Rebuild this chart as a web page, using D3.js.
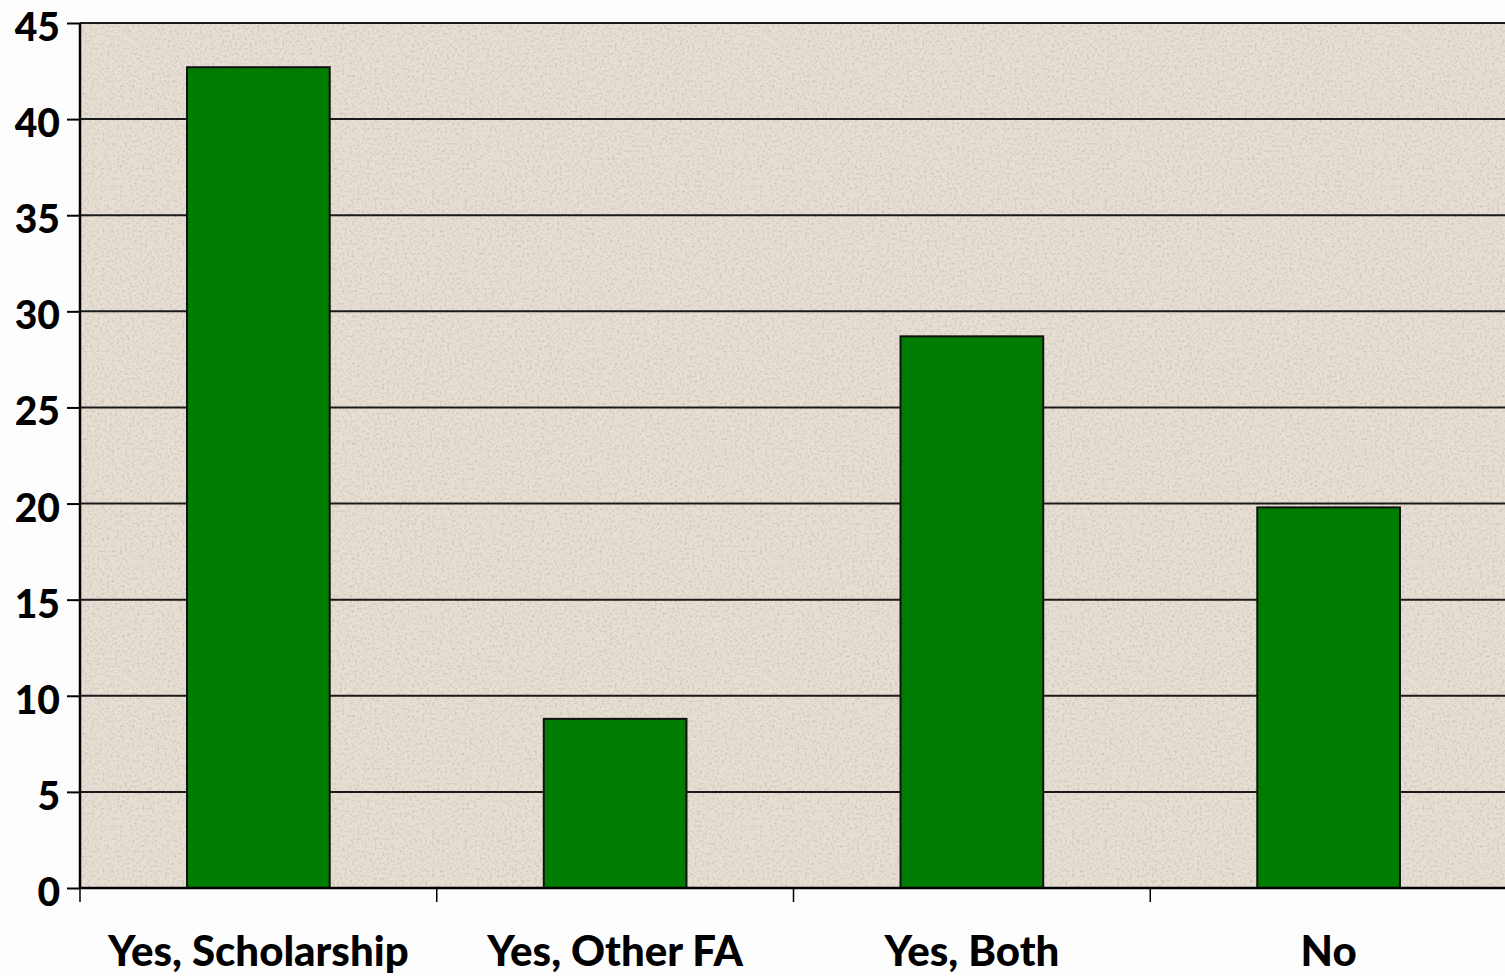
<!DOCTYPE html>
<html>
<head>
<meta charset="utf-8">
<script src="https://cdnjs.cloudflare.com/ajax/libs/d3/7.8.5/d3.min.js"></script>
<style>
  html, body { margin: 0; padding: 0; background: #fdfdfd; overflow: hidden; }
  svg { display: block; }
  .tick text { font-family: Lato, "Open Sans", sans-serif; font-weight: 900; fill: #000; }
</style>
</head>
<body>
<div id="chart"></div>
<script>
// values
categories = ["Yes, Scholarship", "Yes, Other FA", "Yes, Both", "No"];
values = [42.7, 8.8, 28.7, 19.8];
yTicks = [0, 5, 10, 15, 20, 25, 30, 35, 40, 45];

var width = 1505, height = 976;
var margin = {top: 23, right: -2, bottom: 88, left: 80};
var plotW = width - margin.left - margin.right,
    plotH = height - margin.top - margin.bottom;

var svg = d3.select("#chart").append("svg")
    .attr("width", width)
    .attr("height", height);

// speckled paper texture for the plot area
var defs = svg.append("defs");
var filt = defs.append("filter").attr("id", "paper")
    .attr("x", 0).attr("y", 0).attr("width", "100%").attr("height", "100%");
filt.append("feTurbulence")
    .attr("type", "fractalNoise")
    .attr("baseFrequency", 0.4)
    .attr("numOctaves", 2)
    .attr("seed", 7)
    .attr("result", "noise");
filt.append("feColorMatrix")
    .attr("in", "noise")
    .attr("type", "matrix")
    .attr("values", "0 0 0 0 0.60  0 0 0 0 0.55  0 0 0 0 0.49  0 0 0 -2.4 1.3")
    .attr("result", "spots");
filt.append("feComposite")
    .attr("in", "spots")
    .attr("in2", "SourceGraphic")
    .attr("operator", "atop");

var g = svg.append("g")
    .attr("transform", "translate(" + margin.left + "," + margin.top + ")");

g.append("rect")
    .attr("width", plotW)
    .attr("height", plotH)
    .attr("fill", "#e7dfd3")
    .attr("filter", "url(#paper)");

var x = d3.scaleBand()
    .domain(categories)
    .range([0, plotW])
    .paddingInner(0.6)
    .paddingOuter(0.3);

var y = d3.scaleLinear()
    .domain([0, 45])
    .range([plotH, 0]);

// gridlines
g.selectAll(".grid")
    .data(yTicks.slice(1))
    .enter().append("line")
    .attr("class", "grid")
    .attr("x1", 0)
    .attr("x2", plotW)
    .attr("y1", function(d){ return y(d); })
    .attr("y2", function(d){ return y(d); })
    .attr("stroke", "#1a1a1a")
    .attr("stroke-width", 2);

// bars
g.selectAll(".bar")
    .data(values)
    .enter().append("rect")
    .attr("class", "bar")
    .attr("x", function(d, i){ return x(categories[i]); })
    .attr("y", function(d){ return y(d); })
    .attr("width", x.bandwidth())
    .attr("height", function(d){ return plotH - y(d); })
    .attr("fill", "#007d00")
    .attr("stroke", "#111")
    .attr("stroke-width", 2);

// y axis
var yAxis = d3.axisLeft(y)
    .tickValues(yTicks)
    .tickSize(13)
    .tickPadding(7);
var yg = g.append("g").call(yAxis);
yg.select(".domain").attr("stroke", "#000").attr("stroke-width", 2.5)
    .attr("d", "M0," + plotH + "V0");
yg.selectAll(".tick line").attr("stroke", "#000").attr("stroke-width", 2);
yg.selectAll(".tick text").style("font-size", "39px")
    .attr("dy", null).attr("y", 17.5);

// x axis: ticks sit on the band boundaries
var step = x.step();
var bounds = categories.map(function(c){ return x(c) - (step - x.bandwidth()) / 2; });
g.append("line")
    .attr("x1", 0).attr("x2", plotW)
    .attr("y1", plotH).attr("y2", plotH)
    .attr("stroke", "#000").attr("stroke-width", 2.5);
g.selectAll(".xtick")
    .data(bounds)
    .enter().append("line")
    .attr("class", "xtick")
    .attr("x1", function(d){ return d; })
    .attr("x2", function(d){ return d; })
    .attr("y1", plotH)
    .attr("y2", plotH + 14)
    .attr("stroke", "#000")
    .attr("stroke-width", 1.5);

g.selectAll(".xlabel")
    .data(categories)
    .enter().append("text")
    .attr("class", "xlabel")
    .attr("x", function(d){ return x(d) + x.bandwidth() / 2; })
    .attr("y", plotH + 78)
    .attr("text-anchor", "middle")
    .style("font-family", "Lato, 'Open Sans', sans-serif")
    .style("font-weight", "900")
    .style("font-size", "42px")
    .text(function(d){ return d; });
</script>
</body>
</html>
